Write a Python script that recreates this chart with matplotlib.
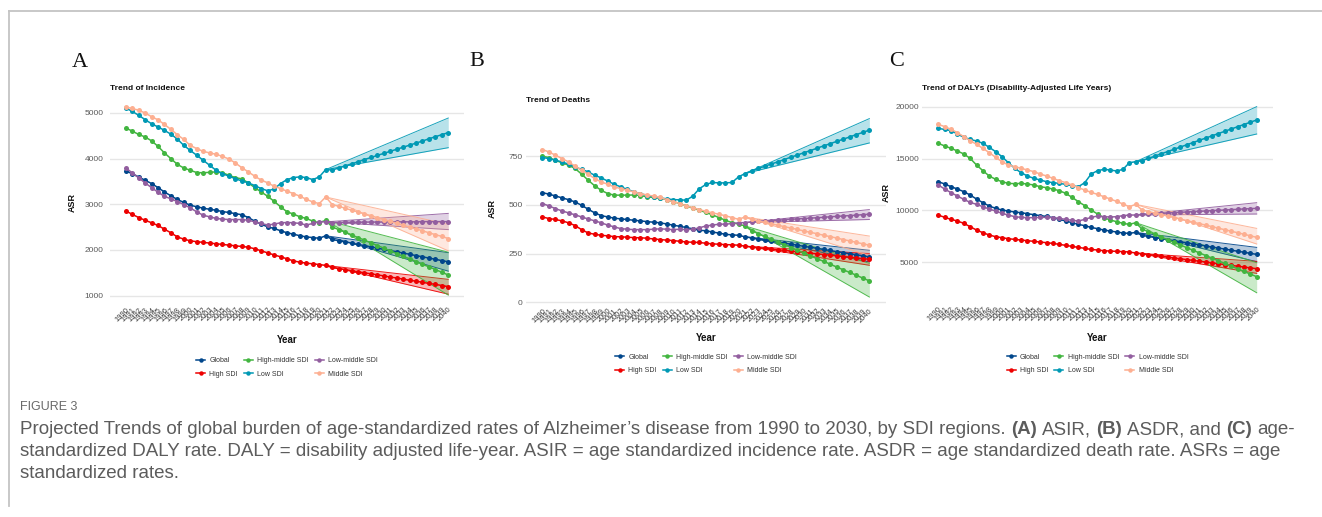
import numpy as np
import matplotlib
matplotlib.use("Agg")
import matplotlib.pyplot as plt
from matplotlib.lines import Line2D

W, H, DPI = 1322, 517, 100

years = np.arange(1990, 2041)
year_labels = [str(y) for y in years]
last_observed = 2021
horizon = 2040

groups = ["Global", "High SDI", "High-middle SDI", "Low SDI", "Low-middle SDI", "Middle SDI"]
colors = ["#00468B", "#ED0000", "#42B540", "#0099B4", "#925E9F", "#FDAF91"]

# ---- Incidence ASR (1990-2021 observed, 2022-2040 projected) ----
inc_global = [3730, 3670, 3600, 3525, 3455, 3365, 3270, 3185, 3105, 3040,
              2980, 2945, 2915, 2890, 2870, 2840, 2820, 2795, 2770, 2710,
              2630, 2565, 2505, 2470, 2420, 2375, 2345, 2310, 2285, 2270,
              2255, 2310,
              2230, 2200, 2175, 2150, 2120, 2095, 2065, 2040, 2010, 1985,
              1960, 1930, 1905, 1875, 1850, 1820, 1795, 1765, 1740]
inc_high = [2855, 2780, 2710, 2650, 2595, 2535, 2455, 2375, 2285, 2235,
            2200, 2180, 2165, 2150, 2135, 2120, 2105, 2090, 2075, 2060,
            2025, 1980, 1935, 1890, 1850, 1805, 1760, 1730, 1710, 1695,
            1680, 1660,
            1615, 1590, 1570, 1545, 1520, 1500, 1475, 1455, 1430, 1405,
            1385, 1360, 1335, 1315, 1290, 1265, 1245, 1220, 1195]
inc_highmid = [4670, 4605, 4530, 4475, 4390, 4270, 4125, 4000, 3875, 3795,
               3745, 3695, 3690, 3700, 3710, 3690, 3635, 3585, 3555, 3470,
               3365, 3270, 3175, 3065, 2945, 2835, 2785, 2725, 2690, 2630,
               2595, 2650,
               2505, 2445, 2390, 2330, 2270, 2215, 2155, 2095, 2040, 1980,
               1920, 1860, 1805, 1745, 1685, 1630, 1570, 1510, 1450]
inc_low = [5110, 5035, 4950, 4855, 4765, 4695, 4620, 4535, 4430, 4290,
           4180, 4075, 3965, 3855, 3745, 3670, 3615, 3560, 3510, 3470,
           3410, 3345, 3295, 3335, 3455, 3540, 3585, 3600, 3585, 3540,
           3600, 3760,
           3750, 3795, 3840, 3885, 3930, 3980, 4025, 4070, 4115, 4160,
           4205, 4250, 4295, 4340, 4385, 4435, 4480, 4525, 4570]
inc_lowmid = [3795, 3690, 3580, 3470, 3365, 3265, 3175, 3120, 3060, 2995,
              2920, 2835, 2760, 2725, 2690, 2675, 2665, 2665, 2665, 2650,
              2615, 2580, 2545, 2565, 2595, 2600, 2595, 2580, 2545, 2580,
              2615, 2615,
              2600, 2600, 2605, 2605, 2605, 2610, 2610, 2610, 2610, 2615,
              2615, 2615, 2615, 2615, 2620, 2620, 2620, 2620, 2620]
inc_mid = [5130, 5100, 5060, 5000, 4920, 4850, 4750, 4640, 4525, 4420,
           4290, 4220, 4160, 4125, 4095, 4050, 3990, 3905, 3800, 3710,
           3615, 3530, 3470, 3395, 3345, 3285, 3235, 3175, 3110, 3050,
           3015, 3160,
           2995, 2955, 2915, 2870, 2830, 2790, 2750, 2705, 2665, 2625,
           2585, 2540, 2500, 2460, 2420, 2375, 2335, 2295, 2250]
# projection interval bounds in 2040 (lower, upper)
inc_pi_2040 = [(1535, 1940), (1030, 1355), (1010, 1950),
               (4240, 4890), (2445, 2800), (1980, 2560)]

# ---- Deaths ASR ----
dea_global = [563, 555, 546, 536, 527, 515, 498, 478, 459, 445,
              438, 432, 428, 425, 421, 418, 414, 411, 408, 402,
              396, 390, 384, 377, 370, 367, 361, 355, 349, 346,
              344, 336,
              331, 326, 320, 315, 309, 304, 298, 293, 287, 282,
              277, 271, 266, 260, 255, 249, 244, 238, 233]
dea_high = [438, 430, 425, 418, 408, 394, 373, 356, 349, 344,
            341, 337, 336, 334, 332, 331, 329, 325, 322, 319,
            317, 313, 310, 308, 307, 303, 300, 298, 296, 295,
            293, 288,
            284, 280, 277, 273, 270, 266, 263, 259, 256, 252,
            249, 245, 242, 238, 235, 231, 228, 224, 221]
dea_highmid = [750, 743, 729, 716, 704, 687, 658, 627, 598, 575,
               558, 550, 550, 550, 551, 548, 541, 538, 534, 527,
               517, 507, 495, 483, 473, 461, 449, 435, 421, 409,
               401, 392,
               367, 353, 338, 324, 310, 296, 281, 267, 253, 238,
               224, 210, 196, 181, 167, 153, 139, 124, 110]
dea_low = [743, 738, 729, 721, 709, 695, 682, 670, 652, 639,
           622, 606, 592, 580, 567, 558, 548, 541, 536, 531,
           527, 526, 524, 545, 583, 605, 615, 613, 613, 615,
           644, 661,
           675, 687, 698, 710, 721, 733, 745, 756, 768, 779,
           791, 803, 814, 826, 837, 849, 861, 872, 884]
dea_lowmid = [507, 495, 481, 469, 459, 449, 438, 428, 418, 408,
              396, 387, 378, 375, 373, 373, 373, 375, 377, 375,
              373, 375, 373, 375, 382, 392, 396, 401, 401, 404,
              408, 409,
              413, 415, 417, 419, 421, 424, 426, 428, 430, 432,
              434, 436, 439, 441, 443, 445, 447, 450, 452]
dea_mid = [784, 772, 755, 738, 721, 699, 678, 658, 635, 618,
           606, 592, 584, 575, 567, 558, 551, 545, 538, 527,
           517, 507, 495, 486, 476, 467, 459, 452, 444, 435,
           426, 438,
           425, 418, 410, 403, 396, 388, 381, 374, 366, 359,
           352, 344, 337, 330, 322, 315, 308, 300, 293]
dea_pi_2040 = [(207, 267), (190, 250), (27, 200),
               (818, 943), (425, 476), (240, 340)]

# ---- DALYs ASR ----
daly_global = [12770, 12550, 12290, 12065, 11810, 11490, 11100, 10750, 10430, 10205,
               10045, 9945, 9850, 9785, 9690, 9595, 9500, 9430, 9305, 9145,
               8985, 8820, 8660, 8535, 8370, 8245, 8115, 8020, 7925, 7830,
               7795, 7890,
               7600, 7500, 7395, 7295, 7195, 7090, 6990, 6890, 6785, 6685,
               6585, 6480, 6380, 6280, 6175, 6075, 5975, 5870, 5770]
daly_high = [9560, 9335, 9145, 8985, 8760, 8440, 8115, 7860, 7635, 7475,
             7380, 7280, 7215, 7150, 7090, 7025, 6960, 6895, 6830, 6735,
             6640, 6540, 6445, 6350, 6250, 6190, 6125, 6090, 6060, 6040,
             6000, 5900,
             5835, 5755, 5675, 5595, 5515, 5435, 5350, 5270, 5190, 5110,
             5030, 4950, 4870, 4790, 4710, 4630, 4550, 4470, 4390]
daly_highmid = [16470, 16210, 15985, 15730, 15440, 15020, 14380, 13830, 13320, 13000,
                12770, 12610, 12580, 12610, 12550, 12450, 12290, 12195, 12065, 11905,
                11650, 11265, 10850, 10460, 10045, 9660, 9305, 9080, 8920, 8760,
                8660, 8820,
                8210, 7955, 7700, 7445, 7190, 6935, 6680, 6425, 6170, 5915,
                5660, 5405, 5150, 4895, 4640, 4385, 4130, 3875, 3620]
daly_low = [17910, 17800, 17690, 17365, 17045, 16850, 16690, 16470, 16080, 15665,
            15180, 14600, 14060, 13640, 13320, 13095, 12935, 12770, 12680, 12610,
            12515, 12390, 12290, 12680, 13510, 13830, 13960, 13900, 13800, 13960,
            14600, 14700,
            14800, 15020, 15235, 15455, 15670, 15890, 16105, 16325, 16540, 16760,
            16975, 17195, 17410, 17630, 17845, 18065, 18280, 18500, 18715]
daly_lowmid = [12450, 12065, 11715, 11390, 11070, 10780, 10590, 10365, 10140, 9945,
               9720, 9560, 9400, 9335, 9305, 9305, 9335, 9335, 9305, 9240,
               9145, 9050, 8985, 9145, 9335, 9465, 9400, 9370, 9400, 9500,
               9560, 9560,
               9625, 9660, 9690, 9725, 9755, 9790, 9820, 9855, 9885, 9920,
               9950, 9985, 10015, 10045, 10080, 10110, 10145, 10175, 10205]
daly_mid = [18300, 18070, 17815, 17495, 17110, 16725, 16370, 15985, 15570, 15120,
            14700, 14380, 14220, 14060, 13900, 13740, 13510, 13320, 13095, 12870,
            12680, 12450, 12195, 11970, 11745, 11550, 11330, 11100, 10880, 10620,
            10365, 10590,
            10045, 9900, 9755, 9605, 9460, 9315, 9170, 9020, 8875, 8730,
            8585, 8440, 8290, 8145, 8000, 7855, 7710, 7560, 7410]
daly_pi_2040 = [(5065, 6445), (3940, 5100), (2075, 4970),
                (17365, 20000), (9660, 10750), (6770, 8275)]

inc_ticks = [1000, 2000, 3000, 4000, 5000]
dea_ticks = [0, 250, 500, 750]
daly_ticks = [5000, 10000, 15000, 20000]

SANS = ["Liberation Sans", "DejaVu Sans"]
SERIF = ["Liberation Serif", "DejaVu Serif"]
plt.rcParams["font.family"] = SANS

fig = plt.figure(figsize=(W / DPI, H / DPI), dpi=DPI)


def fx(px):
    return px / W


def fy(py):
    return 1 - py / H


def axes_box(left, top, right, bottom):
    return [fx(left), fy(bottom), (right - left) / W, (bottom - top) / H]


panels = [
    dict(letter="A", title="Trend of Incidence",
         series=[inc_global, inc_high, inc_highmid, inc_low, inc_lowmid, inc_mid],
         pi=inc_pi_2040, ticks=inc_ticks, ylim=(815, 5335),
         box=(109.6, 97.7, 464.4, 304.0), letter_xy=(80, 63), title_y=89,
         ylab_xy=(72, 203), year_y=340, legend_y=367.5, tickpad=4.5),
    dict(letter="B", title="Trend of Deaths",
         series=[dea_global, dea_high, dea_highmid, dea_low, dea_lowmid, dea_mid],
         pi=dea_pi_2040, ticks=dea_ticks, ylim=(-15, 980),
         box=(526.0, 111.4, 885.7, 305.2), letter_xy=(477, 62), title_y=101,
         ylab_xy=(492, 208), year_y=338, legend_y=364, tickpad=2.5),
    dict(letter="C", title="Trend of DALYs (Disability-Adjusted Life Years)",
         series=[daly_global, daly_high, daly_highmid, daly_low, daly_lowmid, daly_mid],
         pi=daly_pi_2040, ticks=daly_ticks, ylim=(1050, 20900),
         box=(922.4, 97.3, 1272.6, 303.4), letter_xy=(897, 62), title_y=89,
         ylab_xy=(886, 193), year_y=338, legend_y=364, tickpad=2.5),
]

i_last = int(np.where(years == last_observed)[0][0])

for p in panels:
    l, t, r, b = p["box"]
    ax = fig.add_axes(axes_box(l, t, r, b))
    ax.set_xlim(1987.5, 2042.5)
    ax.set_ylim(*p["ylim"])

    # projection intervals fanning out from the last observed year
    for vals, (lo, hi), c in zip(p["series"], p["pi"], colors):
        v0 = vals[i_last]
        xs = [last_observed, horizon]
        ax.fill_between(xs, [v0, lo], [v0, hi], color=c, alpha=0.28, lw=0, zorder=2)
        ax.plot(xs, [v0, lo], color=c, lw=0.7, alpha=0.9, zorder=2)
        ax.plot(xs, [v0, hi], color=c, lw=0.7, alpha=0.9, zorder=2)

    for vals, c in zip(p["series"], colors):
        ax.plot(years, vals, "-o", color=c, lw=1.1, ms=3.6, mew=0, zorder=3)

    ax.set_yticks(p["ticks"])
    ax.set_yticklabels([str(v) for v in p["ticks"]], fontsize=6, color="#5a5a5a")
    ax.set_xticks(years)
    ax.set_xticklabels(year_labels, fontsize=5.4, color="#3a3a3a",
                       rotation=45, ha="right", rotation_mode="anchor")
    ax.tick_params(axis="both", length=0)
    ax.tick_params(axis="y", pad=p["tickpad"])
    ax.tick_params(axis="x", pad=1.5)
    ax.yaxis.grid(True, color="#E6E6E6", lw=1.0)
    ax.xaxis.grid(False)
    ax.set_axisbelow(True)
    for s in ax.spines.values():
        s.set_visible(False)

    fig.text(fx(l), fy(p["title_y"]), p["title"], fontsize=6, fontweight="bold",
             ha="left", va="center", color="#111111")
    fig.text(fx(p["letter_xy"][0]), fy(p["letter_xy"][1]), p["letter"],
             family=SERIF, fontsize=16, ha="center", va="center", color="#111111")
    fig.text(fx(p["ylab_xy"][0]), fy(p["ylab_xy"][1]), "ASR", fontsize=6.5,
             fontweight="bold", rotation=90, ha="center", va="center", color="#111111")
    cx = (l + r) / 2
    fig.text(fx(cx), fy(p["year_y"]), "Year", fontsize=7, fontweight="bold",
             ha="center", va="center", color="#111111")

    handles = [Line2D([0], [0], color=c, lw=1.1, marker="o", ms=3.2, mew=0)
               for c in colors]
    fig.legend(handles, groups, loc="center", bbox_to_anchor=(fx(cx), fy(p["legend_y"])),
               ncol=3, frameon=False, fontsize=5, handlelength=1.3, handletextpad=0.6,
               columnspacing=0.9, labelspacing=0.95, labelcolor="#333333",
               borderpad=0, borderaxespad=0)

# page frame
fig.add_artist(Line2D([fx(9), fx(1322)], [fy(11), fy(11)], color="#c4c4c4", lw=1.3))
fig.add_artist(Line2D([fx(9), fx(9)], [fy(11), fy(506)], color="#c4c4c4", lw=1.3))

# caption
CAP = ["Liberation Sans", "DejaVu Sans"]
cap_color = "#5c5c5c"
fig.text(fx(20), fy(407), "FIGURE 3", family=CAP, fontsize=9, color="#6a6a6a",
         ha="left", va="center")

renderer = fig.canvas.get_renderer()

line1 = [
    ("Projected Trends of global burden of age-standardized rates of Alzheimer\u2019s "
     "disease from 1990 to 2030, by SDI regions.", "normal"),
    ("(A)", "bold"), ("ASIR,", "normal"), ("(B)", "bold"), ("ASDR, and", "normal"),
    ("(C)", "bold"), ("age-", "normal")]
line2 = [("standardized DALY rate. DALY = disability adjusted life-year. ASIR = age standardized "
          "incidence rate. ASDR = age standardized death rate. ASRs = age", "normal")]
line3 = [("standardized rates.", "normal")]


def text_width(s, weight, size):
    t = fig.text(0, 0, s, family=CAP, fontsize=size, fontweight=weight)
    w = t.get_window_extent(renderer).width
    t.remove()
    return w


def runs_width(runs, size):
    sp = text_width("x x", "normal", size) - text_width("xx", "normal", size)
    return sum(text_width(s, w, size) for s, w in runs) + sp * (len(runs) - 1)


# the first caption line runs from x=20 to x=1303
cap_size = 12.0 * 1283 / runs_width(line1, 12.0)


def draw_runs(x, y, runs):
    sp = text_width("x x", "normal", cap_size) - text_width("xx", "normal", cap_size)
    for i, (s, weight) in enumerate(runs):
        t = fig.text(fx(x), fy(y), s, family=CAP, fontsize=cap_size, fontweight=weight,
                     color=cap_color, ha="left", va="center")
        x += t.get_window_extent(renderer).width
        if i < len(runs) - 1:
            x += sp


draw_runs(20, 430, line1)
draw_runs(20, 452, line2)
draw_runs(20, 474, line3)

fig.savefig("out.png", dpi=DPI)
